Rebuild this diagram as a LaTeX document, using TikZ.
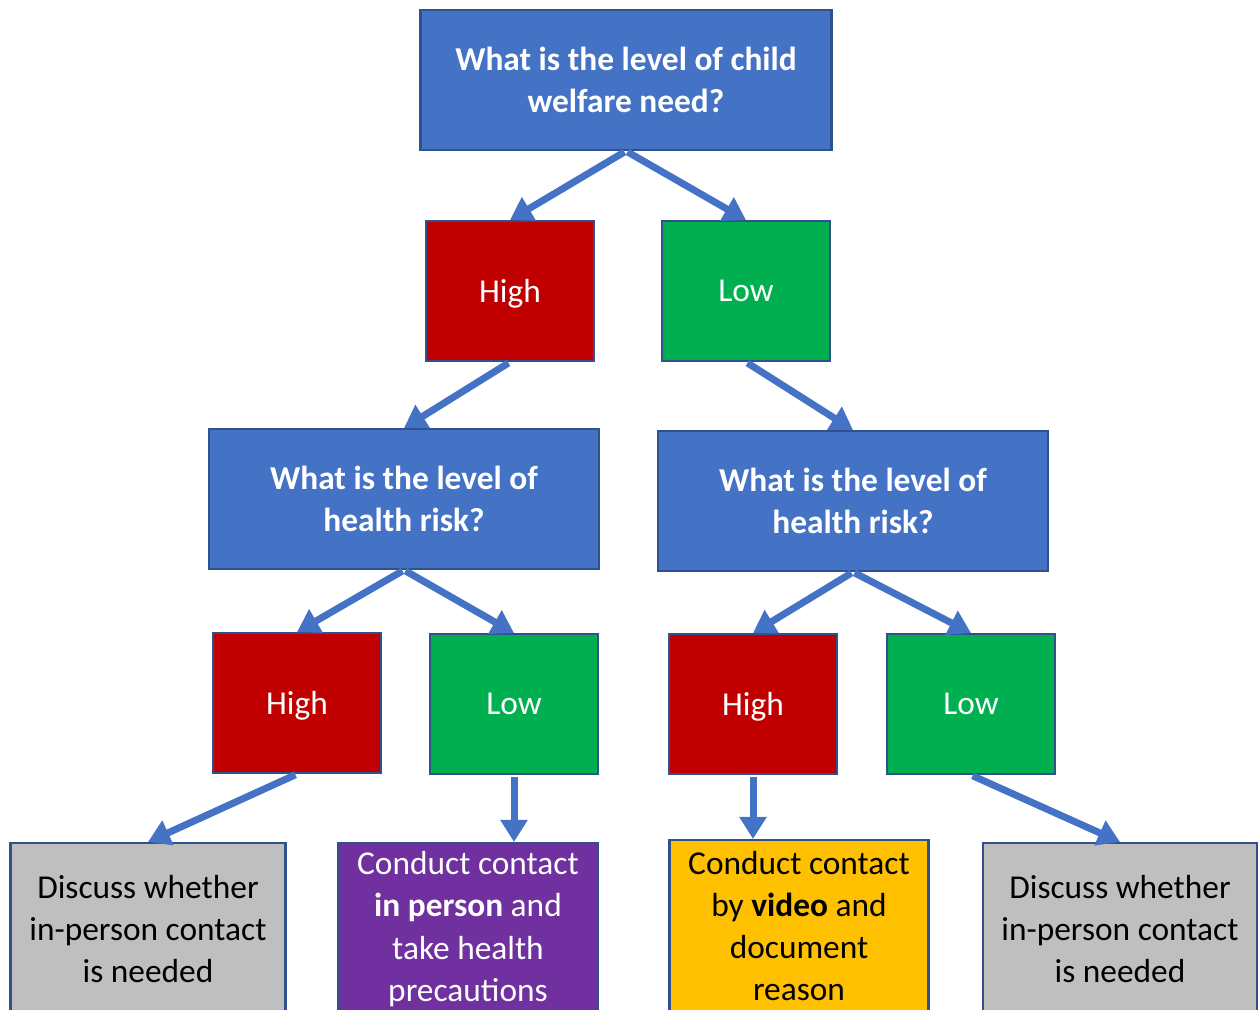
\documentclass[tikz,border=0pt]{standalone}
\usepackage{fontspec}
\setmainfont{Carlito}
\usetikzlibrary{arrows.meta}
\definecolor{QB}{RGB}{68,114,196}
\definecolor{EB}{RGB}{47,82,143}
\definecolor{HR}{RGB}{192,0,0}
\definecolor{LG}{RGB}{0,176,80}
\definecolor{PU}{RGB}{112,48,160}
\definecolor{YE}{RGB}{255,192,0}
\definecolor{GR}{RGB}{191,191,191}

\begin{document}
\begin{tikzpicture}[
  x=0.02cm, y=-0.02cm,
  box/.style={draw=EB, line width=1.2pt, fill=#1, inner sep=0pt,
              minimum height=2.8cm, align=center,
              font=\fontsize{19}{24}\selectfont},
  qbox/.style={box=QB, text=white, font=\fontsize{19}{24}\selectfont\bfseries},
  hbox/.style={box=HR, text=white, minimum width=3.36cm, text depth=0pt},
  lbox/.style={box=LG, text=white, minimum width=3.36cm, text depth=0pt},
  endbox/.style={box=#1, minimum height=3.44cm},
  arr/.style={-{Triangle[length=0.44cm, width=0.52cm]}, line width=0.14cm, draw=QB,
              shorten <=1pt}
]
\useasboundingbox (0,0) rectangle (1258,1009);
\clip (0,0) rectangle (1258,1009);

% Nodes (tree layout, px grid)
\node[qbox, minimum width=8.22cm] (need)  at (626,80)  {What is the level of child\\welfare need?};
\node[hbox] (high)  at (510,291) {High};
\node[lbox] (low)   at (746,291) {Low};
\node[qbox, minimum width=7.8cm]  (riskl) at (404,499) {What is the level of\\health risk?};
\node[qbox, minimum width=7.8cm]  (riskr) at (853,501) {What is the level of\\health risk?};
\node[hbox] (hh)    at (297,703) {High};
\node[lbox] (hl)    at (514,704) {Low};
\node[hbox] (lh)    at (753,704) {High};
\node[lbox] (ll)    at (971,704) {Low};
\node[endbox=GR, minimum width=5.5cm]  (discl)  at (148,929) {Discuss whether\\in-person contact\\is needed};
\node[endbox=PU, text=white, minimum width=5.2cm] (person) at (468,929) {Conduct contact\\\textbf{in person} and\\take health\\precautions};
\node[endbox=YE, minimum width=5.18cm] (video)  at (799,926) {Conduct contact\\by \textbf{video} and\\document\\reason};
\node[endbox=GR, minimum width=5.48cm] (discr)  at (1120,929) {Discuss whether\\in-person contact\\is needed};

\draw[arr] (need.south)--(high.north);
\draw[arr] (need.south)--(low.north);
\draw[arr] (high.south)--(riskl.north);
\draw[arr] (low.south)--(riskr.north);
\draw[arr] (riskl.south)--(hh.north);
\draw[arr] (riskl.south)--(hl.north);
\draw[arr] (riskr.south)--(lh.north);
\draw[arr] (riskr.south)--(ll.north);
\draw[arr] (hh.south)--(discl.north);
\draw[arr] (hl.south)--(hl.south |- person.north);
\draw[arr] (lh.south)--(lh.south |- video.north);
\draw[arr] (ll.south)--(discr.north);
\end{tikzpicture}
\end{document}
